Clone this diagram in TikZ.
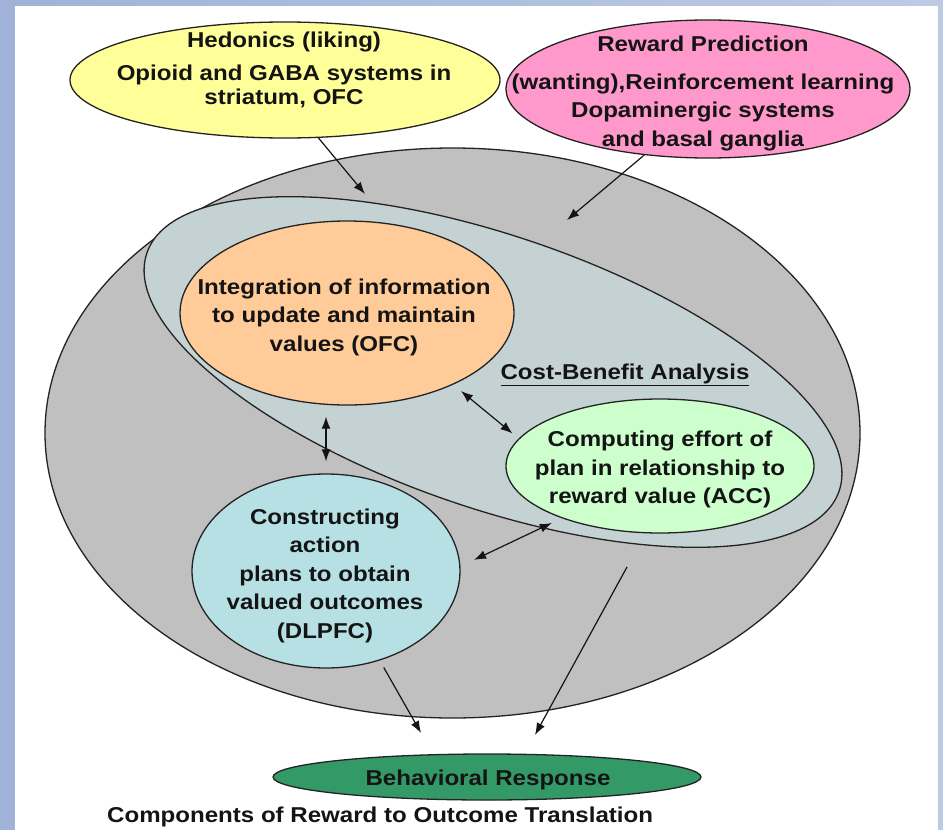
\documentclass[tikz,border=0pt]{standalone}
\usepackage{fontspec}
\setmainfont{Liberation Sans}[FakeStretch=1.12]
\usetikzlibrary{shapes.geometric,arrows.meta}

\definecolor{bgL}{RGB}{160,178,216}
\definecolor{bgR}{RGB}{188,203,229}
\definecolor{edge}{RGB}{35,35,35}
\definecolor{txt}{RGB}{20,20,20}
\definecolor{yelF}{RGB}{255,255,153}
\definecolor{pinkF}{RGB}{255,153,204}
\definecolor{grayF}{RGB}{192,192,192}
\definecolor{cbF}{RGB}{197,210,212}
\definecolor{ofcF}{RGB}{255,204,153}
\definecolor{accF}{RGB}{204,255,204}
\definecolor{dlF}{RGB}{183,224,229}
\definecolor{behF}{RGB}{51,153,102}

\begin{document}
\begin{tikzpicture}[x=1pt,y=-1pt,
  blob/.style={ellipse, draw=edge, line width=1.3pt, inner sep=0pt},
  lbl/.style={align=center, font=\bfseries\fontsize{21.5}{28.5}\selectfont, text=txt, inner sep=0pt},
  tip/.tip={Latex[length=12pt,width=9pt]},
  arr/.style={-tip, line width=1.2pt, draw=txt},
  dbl/.style={tip-tip, line width=1.2pt, draw=txt}]

\useasboundingbox (0,0) rectangle (943,830);

% page background and white panel
\fill[left color=bgL, right color=bgR] (0,0) rectangle (943,830);
\fill[white] (15,6) rectangle (938,830);

% regions
\node[blob, fill=grayF, minimum width=815pt, minimum height=570pt] (gray) at (452.5,433) {};
\node[blob, fill=cbF, rotate=-19, minimum width=732pt, minimum height=272pt] (cb) at (493,372) {};
\node[blob, fill=ofcF, minimum width=334pt, minimum height=184pt] (ofc) at (347,313) {};
\node[blob, fill=accF, minimum width=308pt, minimum height=134pt] (acc) at (660,466) {};
\node[blob, fill=dlF, minimum width=268pt, minimum height=194pt] (dl) at (326,571) {};
\node[blob, fill=yelF, minimum width=430pt, minimum height=116pt] (hed) at (285,80) {};
\node[blob, fill=pinkF, minimum width=404pt, minimum height=138pt] (rew) at (708,89) {};
\node[blob, fill=behF, minimum width=428pt, minimum height=46pt] (beh) at (487,777) {};

% labels
\node[lbl, anchor=north] (hedT) at (284,31.4)
  {Hedonics (liking)\\[4.5pt]Opioid and GABA systems in\\[-4.5pt]striatum, OFC};
\node[lbl, anchor=north] (rewT) at (703,35.4)
  {Reward Prediction\\[9.5pt](wanting),Reinforcement learning\\Dopaminergic systems\\and basal ganglia};
\node[lbl, anchor=north] (ofcT) at (344,278.4)
  {Integration of information\\to update and maintain\\values (OFC)};
\node[lbl, anchor=north] (accT) at (660,431)
  {Computing effort of\\plan in relationship to\\reward value (ACC)};
\node[lbl, anchor=north] (dlT) at (325,508.4)
  {Constructing\\action\\plans to obtain\\valued outcomes\\(DLPFC)};
\node[lbl, anchor=base] (cbT) at (625,379.3) {\underline{Cost-Benefit Analysis}};
\node[lbl, anchor=base] (behT) at (488,785) {Behavioral Response};
\node[lbl, anchor=base west] (title) at (107,822) {Components of Reward to Outcome Translation};

% free arrow ends
\coordinate (hedIn) at (365,194);
\coordinate (rewIn) at (567,220);
\coordinate (behA) at (421,733);
\coordinate (cbOut) at (627,567);
\coordinate (behB) at (535,735);

% connectors
\draw[arr] (hed.-60) -- (hedIn);
\draw[arr] (rew.-134) -- (rewIn);
\draw[dbl, shorten <=11pt, shorten >=12pt] (dl.north |- ofc.south) -- (dl.north);
\draw[dbl, shorten <=10pt, shorten >=8pt] (ofc.-34) -- (acc.169);
\draw[dbl, shorten <=11pt, shorten >=15pt] (acc.-152) -- (dl.2);
\draw[arr, shorten <=8pt] (dl.-59) -- (behA);
\draw[arr] (cbOut) -- (behB);
\end{tikzpicture}
\end{document}
